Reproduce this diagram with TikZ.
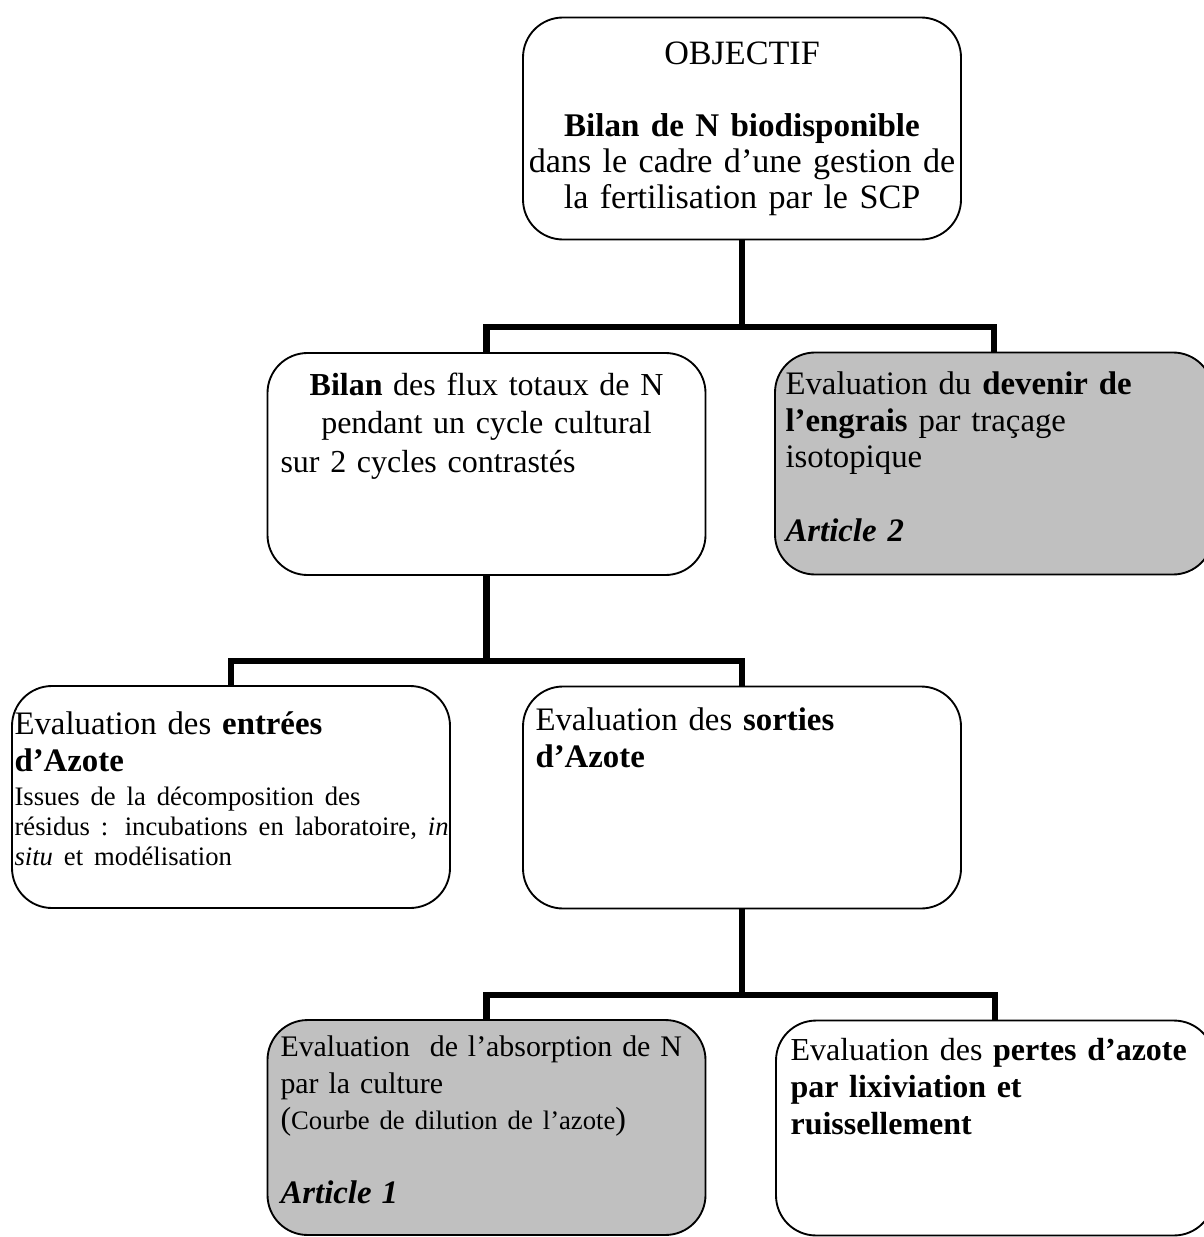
\documentclass[tikz,border=0pt]{standalone}
\usepackage{fontspec}
\setmainfont{Liberation Serif}
\usetikzlibrary{positioning}
\definecolor{boxgray}{HTML}{C0C0C0}

\begin{document}
\begin{tikzpicture}[x=0.375pt, y=-0.375pt,
        box/.style={draw, line width=0.7pt, rounded corners=15pt,
            minimum width=164.25pt, minimum height=83.25pt, inner sep=0pt},
        lowbox/.style={box, minimum height=80.6pt},
        conn/.style={line width=2.3pt},
        txt/.style={anchor=north west, inner sep=0pt, align=left,
            text width=165pt, font=\fontsize{12.3}{13.8}\selectfont}]
    \useasboundingbox (0,0) rectangle (1204,1237);

    % boxes
    \node[box] (obj) at (742,128.5) {};
    \node[box] (bilan) at (486.5,464) {};
    \node[box, fill=boxgray] (devenir) at (994,463.5) {};
    \node[box] (entrees) at (231,797) {};
    \node[box] (sorties) at (742,797.5) {};
    \node[lowbox, fill=boxgray] (absorp) at (486.5,1127.5) {};
    \node[lowbox] (pertes) at (995,1128) {};

    % connectors
    \draw[conn] (bilan.north) -- ++(0,-25) coordinate (busA) -| (devenir.north);
    \draw[conn] (obj.south) -- (obj.south |- busA);
    \draw[conn] (entrees.north) -- ++(0,-24) coordinate (busB) -| (sorties.north);
    \draw[conn] (bilan.south) -- (bilan.south |- busB);
    \draw[conn] (absorp.north) -- ++(0,-24) coordinate (busC) -| (pertes.north);
    \draw[conn] (sorties.south) -- (sorties.south |- busC);

    % texts
    \node[txt, anchor=north, align=center, text width=175pt,
        font=\fontsize{12.8}{13.5}\selectfont] (objtxt) at (742,41)
        {OBJECTIF\\ \mbox{}\\ {\fontsize{12.4}{13.5}\selectfont\textbf{Bilan de N biodisponible}}\\
         dans le cadre d’une gestion de\\ la fertilisation par le SCP};
    \node[txt, text width=154.5pt, font=\fontsize{12}{14.6}\selectfont] (bilantxt) at (280,372)
        {\centering\textbf{Bilan} des flux totaux de N\\ pendant un cycle cultural\par
         \raggedright sur 2 cycles contrastés};
    \node[txt] (deveniertxt) at (785,371)
        {Evaluation du \textbf{devenir de}\\ \textbf{l’engrais} par traçage\\ isotopique\\
         \mbox{}\\ \textbf{\textit{Article 2}}};
    \node[txt] (entreestxt) at (14,711)
        {Evaluation des \textbf{entrées}\\ \textbf{d’Azote}\par\vspace{1.5pt}
         {\fontsize{10}{11.3}\selectfont\raggedright Issues de la décomposition des\\
          résidus : incubations en laboratoire, \textit{in}\\
          \textit{situ} et modélisation\par}};
    \node[txt] (sortiestxt) at (535,707)
        {Evaluation des \textbf{sorties}\\ \textbf{d’Azote}};
    \node[txt, font=\fontsize{11.2}{13.8}\selectfont] (absorptxt) at (280,1035)
        {Evaluation\ \ de l’absorption de N\\ par la culture\\
         {\fontsize{12}{13.8}\selectfont(}{\fontsize{10}{13.8}\selectfont Courbe de dilution de l’azote}{\fontsize{12}{13.8}\selectfont)}\\
         \mbox{}\\ {\fontsize{12.3}{13.8}\selectfont\textbf{\textit{Article 1}}}};
    \node[txt, font=\fontsize{12}{13.8}\selectfont] (pertestxt) at (790,1038)
        {Evaluation des \textbf{pertes d’azote}\\ \textbf{par lixiviation et}\\
         \textbf{ruissellement}};
\end{tikzpicture}
\end{document}
